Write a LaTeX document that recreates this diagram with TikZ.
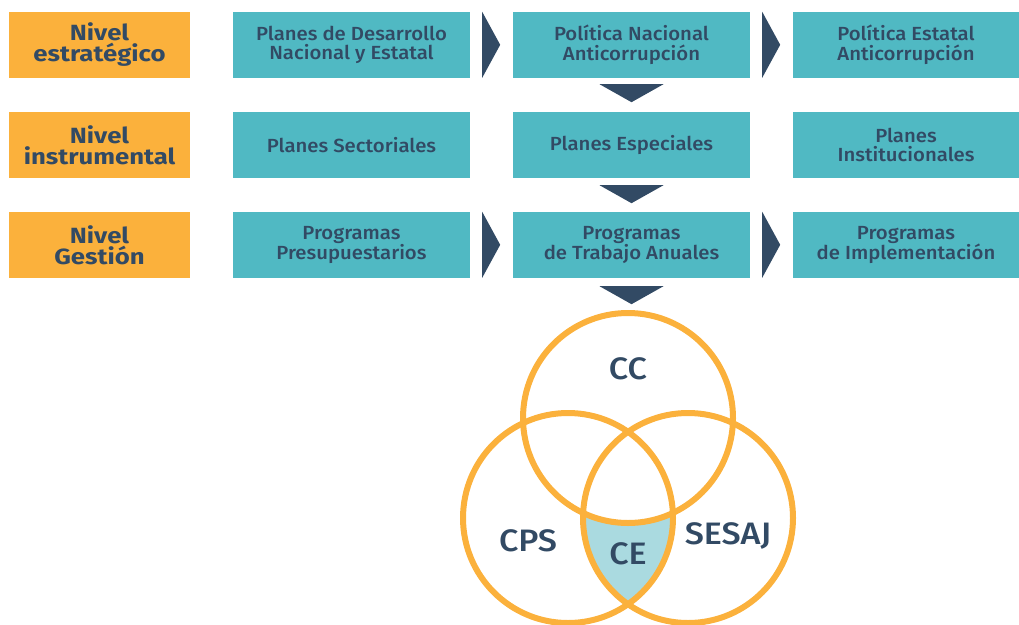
\documentclass[tikz,border=0pt]{standalone}
\usepackage{fontspec}
\setmainfont{Fira Sans}
\newfontfamily\medfont[FakeStretch=1.07]{Fira Sans Medium}
\newfontfamily\lblfont[FakeStretch=1.17]{Fira Sans Bold}
\newfontfamily\vennfont[FakeStretch=1.1]{Fira Sans Medium}
\usetikzlibrary{calc}
\definecolor{orangec}{HTML}{FBB13C}
\definecolor{tealc}{HTML}{50B9C3}
\definecolor{navyc}{HTML}{324A64}
\definecolor{shadec}{HTML}{AADAE0}
\tikzset{
  levelbox/.style={fill=orangec, minimum width=181pt, minimum height=66pt, inner sep=0pt,
    text=navyc, font=\lblfont\fontsize{22}{21}\selectfont, align=center},
  itembox/.style={fill=tealc, minimum width=237pt, minimum height=66pt, inner sep=0pt,
    text=navyc, font=\medfont\fontsize{19}{19.5}\selectfont, align=center},
  lastbox/.style={itembox, minimum width=226pt},
  arrowfill/.style={fill=navyc},
  venn/.style={circle, draw=orangec, line width=6pt, minimum size=210pt, inner sep=0pt},
  vennlabel/.style={text=navyc, font=\vennfont\fontsize{31}{31}\selectfont, inner sep=0pt}
}
\begin{document}
\begin{tikzpicture}[x=1pt, y=-1pt]
\useasboundingbox (0,0) rectangle (1019,624);
% level labels
\node[levelbox] (l1) at (99.5,45) {Nivel\\estratégico};
\node[levelbox] (l2) at (99.5,145) {Nivel\\instrumental};
\node[levelbox] (l3) at (99.5,245) {Nivel\\Gestión};
% row 1
\node[itembox] (b11) at (351.5,45) {Planes de Desarrollo\\Nacional y Estatal};
\node[itembox] (b12) at (631.5,45) {Política Nacional\\Anticorrupción};
\node[lastbox] (b13) at (906,45) {Política Estatal\\Anticorrupción};
% row 2
\node[itembox] (b21) at (351.5,145) {Planes Sectoriales};
\node[itembox] (b22) at (631.5,145) {Planes Especiales};
\node[lastbox] (b23) at (906,145) {Planes\\Institucionales};
% row 3
\node[itembox] (b31) at (351.5,245) {Programas\\Presupuestarios};
\node[itembox] (b32) at (631.5,245) {Programas\\de Trabajo Anuales};
\node[lastbox] (b33) at (906,245) {Programas\\de Implementación};
% right arrows
\fill[arrowfill] (b11.north east) ++(12,0) -- ++(18,33) -- ++(-18,33) -- cycle;
\fill[arrowfill] (b12.north east) ++(12,0) -- ++(18,33) -- ++(-18,33) -- cycle;
\fill[arrowfill] (b31.north east) ++(12,0) -- ++(18,33) -- ++(-18,33) -- cycle;
\fill[arrowfill] (b32.north east) ++(12,0) -- ++(18,33) -- ++(-18,33) -- cycle;
% down arrows
\fill[arrowfill] (b12.south) ++(-32,6) -- ++(64,0) -- ++(-32,18) -- cycle;
\fill[arrowfill] (b22.south) ++(-32,7) -- ++(64,0) -- ++(-32,18) -- cycle;
\fill[arrowfill] (b32.south) ++(-32,8) -- ++(64,0) -- ++(-32,18) -- cycle;
% venn shading
\begin{scope}
  \clip (568,518) circle[radius=105pt];
  \clip (688,518) circle[radius=105pt];
  \fill[shadec] (450,400) rectangle (800,624);
  \fill[white] (628,418) circle[radius=105pt];
\end{scope}
% venn circles
\node[venn] (cc) at (628,418) {};
\node[venn] (cps) at (568,518) {};
\node[venn] (sesaj) at (688,518) {};
% venn labels
\node[vennlabel] (tcc) at (628,369) {CC};
\node[vennlabel] (tcps) at (528,541) {CPS};
\node[vennlabel] (tce) at (628,554) {CE};
\node[vennlabel] (tsesaj) at (728,536) {SESAJ};
\end{tikzpicture}
\end{document}
